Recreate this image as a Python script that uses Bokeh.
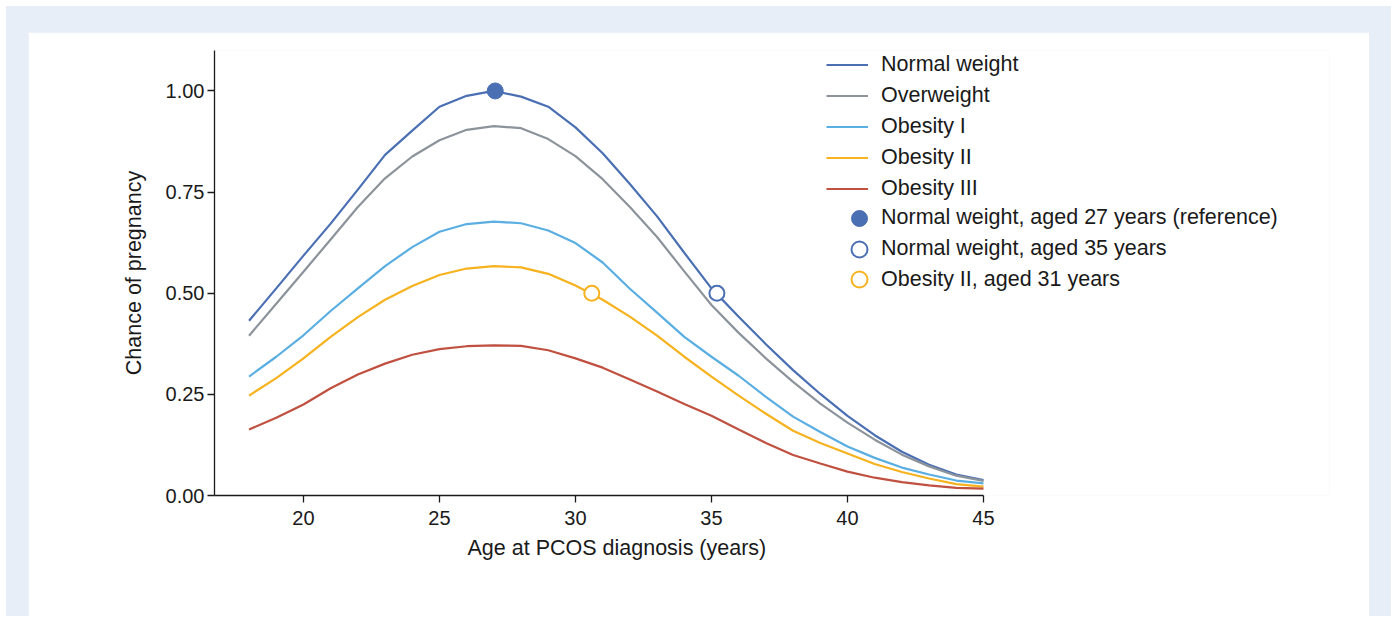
from bokeh.plotting import figure
from bokeh.models import (ColumnDataSource, Legend, LegendItem, FixedTicker,
                          NumeralTickFormatter, Range1d, Title)
from bokeh.layouts import column
from bokeh.embed import file_html
from bokeh.resources import INLINE

# ---------------- data ----------------
ages = list(range(18, 46))
normal_weight = [0.432, 0.512, 0.593, 0.672, 0.756, 0.842, 0.902, 0.961, 0.988, 1.000,
                 0.986, 0.961, 0.910, 0.846, 0.770, 0.690, 0.600, 0.512, 0.442, 0.374,
                 0.310, 0.251, 0.197, 0.149, 0.108, 0.076, 0.052, 0.038]
overweight = [0.395, 0.474, 0.553, 0.633, 0.713, 0.784, 0.838, 0.878, 0.904, 0.913,
              0.908, 0.881, 0.839, 0.782, 0.713, 0.639, 0.554, 0.471, 0.402, 0.339,
              0.281, 0.227, 0.180, 0.138, 0.101, 0.072, 0.049, 0.036]
obesity_1 = [0.294, 0.343, 0.396, 0.456, 0.512, 0.567, 0.614, 0.652, 0.671, 0.677,
             0.673, 0.655, 0.624, 0.576, 0.511, 0.452, 0.392, 0.343, 0.296, 0.244,
             0.195, 0.157, 0.121, 0.093, 0.069, 0.052, 0.037, 0.030]
obesity_2 = [0.247, 0.290, 0.339, 0.392, 0.441, 0.484, 0.518, 0.545, 0.561, 0.567,
             0.564, 0.548, 0.519, 0.484, 0.442, 0.395, 0.343, 0.294, 0.247, 0.202,
             0.160, 0.130, 0.104, 0.078, 0.058, 0.042, 0.028, 0.022]
obesity_3 = [0.163, 0.192, 0.225, 0.265, 0.299, 0.326, 0.348, 0.362, 0.369, 0.371,
             0.370, 0.359, 0.339, 0.316, 0.287, 0.257, 0.226, 0.197, 0.163, 0.130,
             0.100, 0.079, 0.059, 0.044, 0.033, 0.025, 0.019, 0.017]

series_names = ["Normal weight", "Overweight", "Obesity I", "Obesity II", "Obesity III"]
series_values = [normal_weight, overweight, obesity_1, obesity_2, obesity_3]
series_colors = ["#4a6fb3", "#8c939b", "#5aaee2", "#f6b21f", "#c0503f"]

point_labels = ["Normal weight, aged 27 years (reference)",
                "Normal weight, aged 35 years",
                "Obesity II, aged 31 years"]
point_x = [27.05, 35.2, 30.6]
point_y = [1.0, 0.5, 0.5]
point_colors = ["#4a6fb3", "#4a6fb3", "#f6b21f"]
point_filled = [True, False, False]

x_ticks = [20, 25, 30, 35, 40, 45]
y_ticks = [0.0, 0.25, 0.5, 0.75, 1.0]

FONT = "Liberation Sans"
TXT = "#1a1a1a"
LBL = "21.5px"

p = figure(width=1341, height=584, output_backend="svg", toolbar_location=None,
           x_range=Range1d(16.73, 57.72), y_range=Range1d(0, 1.1),
           min_border_left=186, min_border_right=40, min_border_top=18,
           min_border_bottom=121, background_fill_color="white",
           border_fill_color="white", outline_line_color=None)
p.grid.visible = False

for ax in (p.xaxis[0], p.yaxis[0]):
    ax.axis_line_color = "#1a1a1a"
    ax.axis_line_width = 1.3
    ax.major_tick_line_color = "#1a1a1a"
    ax.major_tick_line_width = 1.3
    ax.major_tick_in = 0
    ax.major_tick_out = 7
    ax.minor_tick_line_color = None
    ax.major_label_text_font = FONT
    ax.major_label_text_font_size = "20px"
    ax.major_label_text_color = TXT
    ax.axis_label_text_font = FONT
    ax.axis_label_text_font_size = LBL
    ax.axis_label_text_font_style = "normal"
    ax.axis_label_text_color = TXT

p.xaxis.ticker = FixedTicker(ticks=x_ticks)
p.xaxis.bounds = (16.73, 45)
p.yaxis.ticker = FixedTicker(ticks=y_ticks)
p.yaxis.formatter = NumeralTickFormatter(format="0.00")
p.xaxis.major_label_standoff = 8
p.yaxis.major_label_standoff = 3
p.yaxis.axis_label = "Chance of pregnancy"
p.yaxis.axis_label_standoff = 17

# x axis title, centred over the plotted age span
p.add_layout(Title(text="Age at PCOS diagnosis (years)", align="left", offset=253,
                   text_font=FONT, text_font_size=LBL, text_font_style="normal",
                   text_color=TXT, standoff=13), "below")

line_items = []
for name, vals, col in zip(series_names, series_values, series_colors):
    src = ColumnDataSource(dict(x=ages, y=vals))
    r = p.line("x", "y", source=src, line_color=col, line_width=2.2)
    line_items.append(LegendItem(label=name, renderers=[r]))

pt_items = []
for lab, px, py, col, filled in zip(point_labels, point_x, point_y, point_colors, point_filled):
    src = ColumnDataSource(dict(x=[px], y=[py]))
    r = p.scatter("x", "y", source=src, size=16 if filled else 15, marker="circle",
                  fill_color=col if filled else "white", line_color=col,
                  line_width=1 if filled else 2)
    pt_items.append(LegendItem(label=lab, renderers=[r]))

common = dict(border_line_color=None, background_fill_alpha=0, padding=0, margin=0,
              label_text_font=FONT, label_text_font_size=LBL, label_text_color=TXT)
p.add_layout(Legend(items=line_items, location=(612, 291.5), glyph_width=42,
                    glyph_height=31, label_height=31, spacing=0, label_standoff=13,
                    **common))
# one small legend per marker entry so each row keeps the reference spacing
for item, vy in zip(pt_items, [257.3, 226.5, 195.8]):
    p.add_layout(Legend(items=[item], location=(625, vy), glyph_width=40, glyph_height=40,
                        label_height=40, spacing=0, label_standoff=2, **common))

page = column(p, styles={"background-color": "#e7eef8", "padding": "26px 22px 0px 22px",
                         "margin": "6px 0px 0px 6px"})

open("out.html", "w").write(file_html(page, INLINE))
